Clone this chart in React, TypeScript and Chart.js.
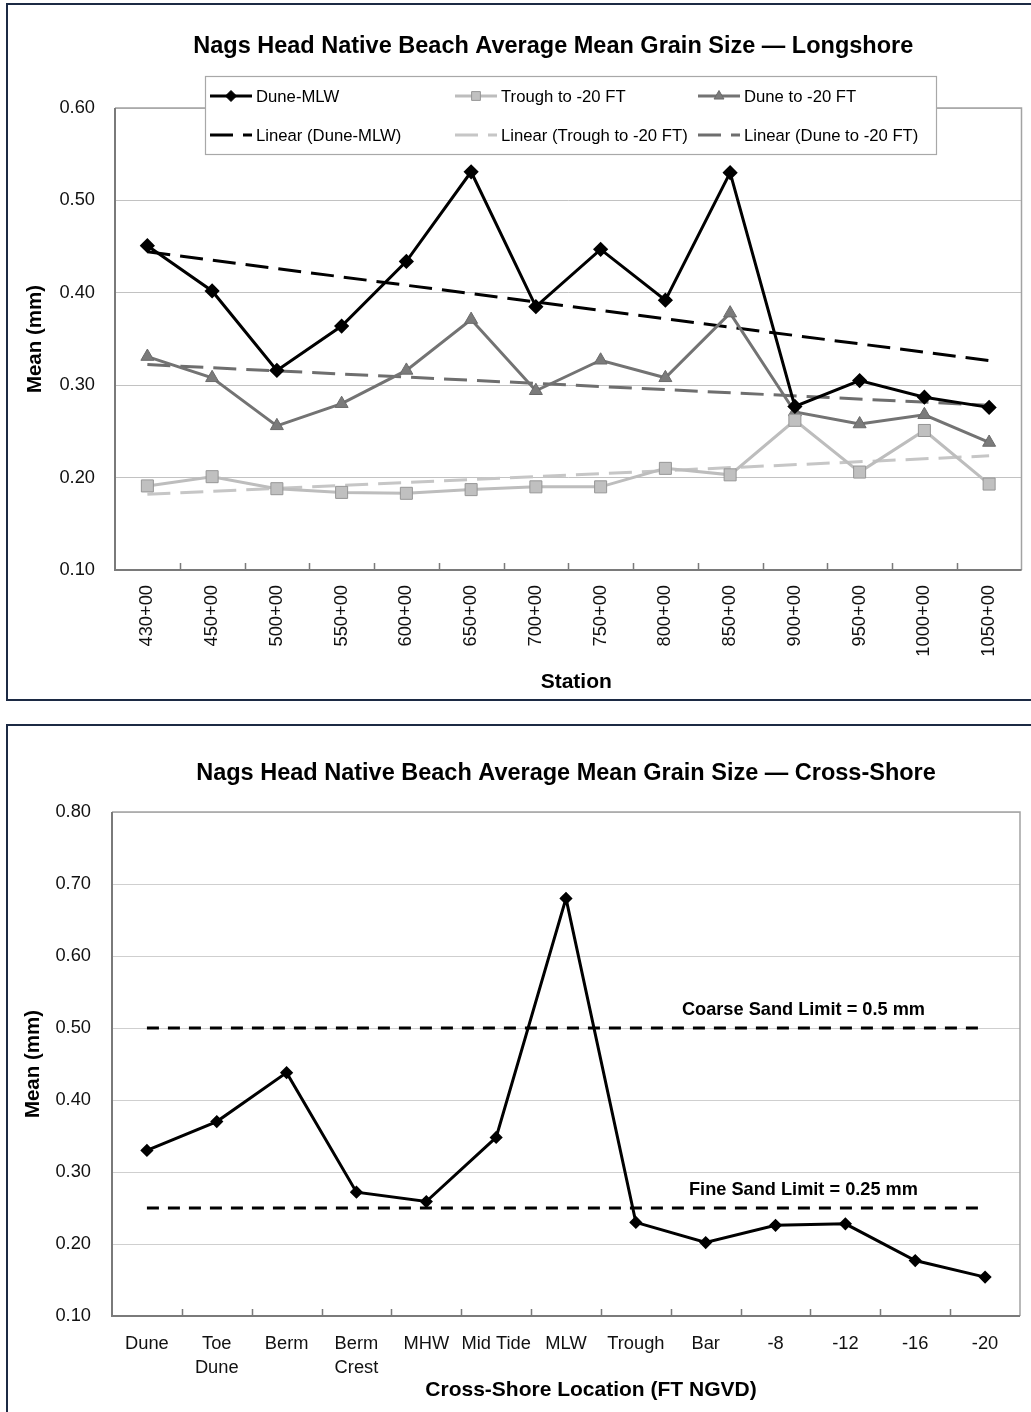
import React, { useEffect, useRef } from "react";
import { Chart, registerables } from "chart.js";

Chart.register(...registerables);

const FONT = "'Liberation Sans', Arial, Helvetica, sans-serif";

// ---- Longshore data (mean grain size, mm) ----
const STATIONS = [
  "430+00", "450+00", "500+00", "550+00", "600+00", "650+00", "700+00",
  "750+00", "800+00", "850+00", "900+00", "950+00", "1000+00", "1050+00",
];
const DUNE_MLW = [0.451, 0.402, 0.316, 0.364, 0.434, 0.531, 0.385, 0.447, 0.392, 0.53, 0.277, 0.305, 0.287, 0.276];
const TROUGH_TO_20 = [0.191, 0.201, 0.188, 0.184, 0.183, 0.187, 0.19, 0.19, 0.21, 0.203, 0.262, 0.206, 0.251, 0.193];
const DUNE_TO_20 = [0.331, 0.308, 0.256, 0.28, 0.316, 0.371, 0.294, 0.327, 0.308, 0.378, 0.271, 0.258, 0.268, 0.238];
const LONGSHORE_Y = { min: 0.1, max: 0.6, step: 0.1 };

// ---- Cross-shore data ----
const LOCATIONS: (string | string[])[] = [
  "Dune", ["Toe", "Dune"], "Berm", ["Berm", "Crest"], "MHW", "Mid Tide", "MLW",
  "Trough", "Bar", "-8", "-12", "-16", "-20",
];
const CROSS_SHORE_MEAN = [0.33, 0.37, 0.438, 0.272, 0.259, 0.348, 0.68, 0.23, 0.202, 0.226, 0.228, 0.177, 0.154];
const CROSS_SHORE_Y = { min: 0.1, max: 0.8, step: 0.1 };
const COARSE_SAND_LIMIT = 0.5;
const FINE_SAND_LIMIT = 0.25;

// Least-squares trend, returned only at the first and last category
function linearTrendEnds(values: number[]): (number | null)[] {
  const n = values.length;
  const mx = (n - 1) / 2;
  const my = values.reduce((s, v) => s + v, 0) / n;
  let sxy = 0;
  let sxx = 0;
  values.forEach((v, i) => {
    sxy += (i - mx) * (v - my);
    sxx += (i - mx) * (i - mx);
  });
  const slope = sxy / sxx;
  return values.map((_, i) => (i === 0 || i === n - 1 ? my + slope * (i - mx) : null));
}

function constantEnds(count: number, value: number): (number | null)[] {
  return Array.from({ length: count }, (_, i) => (i === 0 || i === count - 1 ? value : null));
}

function drawMarker(ctx: CanvasRenderingContext2D, style: string, x: number, y: number, r: number, fill: string, stroke: string) {
  ctx.beginPath();
  if (style === "rectRot") {
    ctx.moveTo(x, y - r);
    ctx.lineTo(x + r, y);
    ctx.lineTo(x, y + r);
    ctx.lineTo(x - r, y);
  } else if (style === "rect") {
    const s = r * 0.8;
    ctx.rect(x - s, y - s, 2 * s, 2 * s);
  } else {
    ctx.moveTo(x, y - r);
    ctx.lineTo(x + r * 0.9, y + r * 0.55);
    ctx.lineTo(x - r * 0.9, y + r * 0.55);
  }
  ctx.closePath();
  ctx.fillStyle = fill;
  ctx.fill();
  ctx.strokeStyle = stroke;
  ctx.lineWidth = 1;
  ctx.stroke();
}

// Plot frame: light top/right edges, darker axes, short inward ticks between categories
const plotFrame = {
  id: "plotFrame",
  beforeDatasetsDraw(chart: any) {
    const { ctx, chartArea: a, scales } = chart;
    ctx.save();
    ctx.strokeStyle = "#a3a3a3";
    ctx.lineWidth = 1.5;
    ctx.beginPath();
    ctx.moveTo(a.left, a.top);
    ctx.lineTo(a.right, a.top);
    ctx.lineTo(a.right, a.bottom);
    ctx.stroke();
    ctx.strokeStyle = "#7a7a7a";
    ctx.lineWidth = 2;
    ctx.beginPath();
    ctx.moveTo(a.left, a.top);
    ctx.lineTo(a.left, a.bottom);
    ctx.lineTo(a.right, a.bottom);
    ctx.stroke();
    const xs = scales.x;
    const n = chart.data.labels.length;
    ctx.lineWidth = 1.5;
    ctx.beginPath();
    for (let i = 0; i < n - 1; i++) {
      const px = Math.round((xs.getPixelForValue(i) + xs.getPixelForValue(i + 1)) / 2) + 0.5;
      ctx.moveTo(px, a.bottom);
      ctx.lineTo(px, a.bottom - 7);
    }
    ctx.stroke();
    ctx.restore();
  },
};

// Nudges the chart title horizontally after layout
function makeTitleShift(dx: number) {
  return {
    id: "titleShift",
    afterLayout(chart: any) {
      const t = chart.titleBlock;
      if (t) {
        t.left += dx;
        t.right += dx;
      }
    },
  };
}

// Bold caption under the category axis, centred on the plot plus an offset
function makeAxisCaption(text: string, dx: number, fromBottom: number) {
  return {
    id: "axisCaption",
    afterDraw(chart: any) {
      const { ctx, chartArea: a } = chart;
      ctx.save();
      ctx.fillStyle = "#000";
      ctx.font = `bold 21px ${FONT}`;
      ctx.textAlign = "center";
      ctx.textBaseline = "middle";
      ctx.fillText(text, (a.left + a.right) / 2 + dx, chart.height - fromBottom);
      ctx.restore();
    },
  };
}

// Two-row legend box laid over the top of the plot
function makeGridLegend(cfg: {
  offsetX: number; offsetY: number; width: number; height: number;
  columns: number; columnX: number[]; rowY: number[]; sampleWidth: number; fontSize: number;
}) {
  return {
    id: "gridLegend",
    afterDatasetsDraw(chart: any) {
      const { ctx, chartArea } = chart;
      const x0 = chartArea.left + cfg.offsetX;
      const y0 = chartArea.top + cfg.offsetY;
      ctx.save();
      ctx.fillStyle = "#ffffff";
      ctx.fillRect(x0, y0, cfg.width, cfg.height);
      ctx.strokeStyle = "#a8a8a8";
      ctx.lineWidth = 1.2;
      ctx.strokeRect(x0 + 0.5, y0 + 0.5, cfg.width, cfg.height);
      chart.data.datasets.forEach((ds: any, i: number) => {
        const col = i % cfg.columns;
        const row = Math.floor(i / cfg.columns);
        const sx = x0 + cfg.columnX[col];
        const sy = y0 + cfg.rowY[row];
        ctx.beginPath();
        ctx.setLineDash(ds.borderDash || []);
        ctx.strokeStyle = ds.borderColor;
        ctx.lineWidth = ds.borderWidth;
        ctx.moveTo(sx, sy);
        ctx.lineTo(sx + cfg.sampleWidth, sy);
        ctx.stroke();
        ctx.setLineDash([]);
        if (ds.pointRadius > 0) {
          drawMarker(ctx, ds.pointStyle, sx + cfg.sampleWidth / 2, sy, 5.5, ds.pointBackgroundColor, ds.pointBorderColor);
        }
        ctx.fillStyle = "#000";
        ctx.font = `${cfg.fontSize}px ${FONT}`;
        ctx.textAlign = "left";
        ctx.textBaseline = "middle";
        ctx.fillText(ds.label, sx + cfg.sampleWidth + 4, sy + 1);
      });
      ctx.restore();
    },
  };
}

// Text labels above the sand-limit reference lines
function makeLimitLabels(items: { value: number; text: string; at: number }[]) {
  return {
    id: "limitLabels",
    afterDatasetsDraw(chart: any) {
      const { ctx, scales } = chart;
      ctx.save();
      ctx.fillStyle = "#000";
      ctx.font = `bold 18.2px ${FONT}`;
      ctx.textAlign = "center";
      ctx.textBaseline = "alphabetic";
      items.forEach((it) => {
        ctx.fillText(it.text, scales.x.getPixelForValue(it.at), scales.y.getPixelForValue(it.value) - 13);
      });
      ctx.restore();
    },
  };
}

const tickFont = { family: FONT, size: 18.3 };
const yTitleFont = { family: FONT, size: 20.5, weight: "bold" as const };
const titleFont = { family: FONT, size: 23.5, weight: "bold" as const };

function longshoreConfig(): any {
  return {
    type: "line",
    data: {
      labels: STATIONS,
      datasets: [
        {
          label: "Dune-MLW", data: DUNE_MLW, borderColor: "#000000", borderWidth: 3,
          pointStyle: "rectRot", pointRadius: 5.5, pointBackgroundColor: "#000000", pointBorderColor: "#000000",
        },
        {
          label: "Trough to -20 FT", data: TROUGH_TO_20, borderColor: "#bdbdbd", borderWidth: 3,
          pointStyle: "rect", pointRadius: 8.5, pointBackgroundColor: "#c0c0c0", pointBorderColor: "#969696", pointBorderWidth: 1,
        },
        {
          label: "Dune to -20 FT", data: DUNE_TO_20, borderColor: "#737373", borderWidth: 3,
          pointStyle: "triangle", pointRadius: 7.5, pointBackgroundColor: "#7b7b7b", pointBorderColor: "#6a6a6a", pointBorderWidth: 1,
        },
        {
          label: "Linear (Dune-MLW)", data: linearTrendEnds(DUNE_MLW), borderColor: "#000000", borderWidth: 3,
          borderDash: [23, 10], pointRadius: 0, spanGaps: true,
        },
        {
          label: "Linear (Trough to -20 FT)", data: linearTrendEnds(TROUGH_TO_20), borderColor: "#c6c6c6", borderWidth: 3,
          borderDash: [23, 10], pointRadius: 0, spanGaps: true,
        },
        {
          label: "Linear (Dune to -20 FT)", data: linearTrendEnds(DUNE_TO_20), borderColor: "#6e6e6e", borderWidth: 3,
          borderDash: [23, 10], pointRadius: 0, spanGaps: true,
        },
      ],
    },
    options: {
      responsive: false,
      animation: false,
      devicePixelRatio: 1,
      layout: { padding: { left: 0, right: 8, top: 0, bottom: 0 } },
      elements: { line: { tension: 0 } },
      plugins: {
        legend: { display: false },
        tooltip: { enabled: false },
        title: {
          display: true,
          fullSize: false,
          text: "Nags Head Native Beach Average Mean Grain Size \u2014 Longshore",
          font: titleFont, color: "#000",
          padding: { top: 32.9, bottom: 46.9 },
        },
      },
      scales: {
        x: {
          type: "category", offset: true,
          grid: { display: false, drawTicks: false },
          border: { display: false },
          ticks: { minRotation: 90, maxRotation: 90, autoSkip: false, padding: 15, font: tickFont, color: "#111" },
          title: { display: false },
          afterFit: (s: any) => { s.height = 130; },
        },
        y: {
          min: LONGSHORE_Y.min, max: LONGSHORE_Y.max,
          grid: { color: "#c2c2c2", lineWidth: 1, drawTicks: false },
          border: { display: false },
          ticks: { stepSize: LONGSHORE_Y.step, padding: 20, font: tickFont, color: "#111", callback: (v: any) => Number(v).toFixed(2) },
          title: { display: true, text: "Mean (mm)", font: yTitleFont, color: "#000", padding: { top: 22.7, bottom: 0 } },
          afterFit: (s: any) => { s.width = 115; },
        },
      },
    },
    plugins: [
      plotFrame,
      makeTitleShift(-15),
      makeAxisCaption("Station", 8, 18),
      makeGridLegend({
        offsetX: 90, offsetY: -32, width: 731, height: 78, columns: 3,
        columnX: [5, 250, 493], rowY: [20, 59], sampleWidth: 42, fontSize: 16.7,
      }),
    ],
  };
}

function crossShoreConfig(): any {
  const n = LOCATIONS.length;
  return {
    type: "line",
    data: {
      labels: LOCATIONS,
      datasets: [
        {
          label: "Mean", data: CROSS_SHORE_MEAN, borderColor: "#000000", borderWidth: 3,
          pointStyle: "rectRot", pointRadius: 4.5, pointBackgroundColor: "#000000", pointBorderColor: "#000000",
        },
        {
          label: "Coarse Sand Limit", data: constantEnds(n, COARSE_SAND_LIMIT), borderColor: "#000000", borderWidth: 3,
          borderDash: [12, 9], pointRadius: 0, spanGaps: true,
        },
        {
          label: "Fine Sand Limit", data: constantEnds(n, FINE_SAND_LIMIT), borderColor: "#000000", borderWidth: 3,
          borderDash: [12, 9], pointRadius: 0, spanGaps: true,
        },
      ],
    },
    options: {
      responsive: false,
      animation: false,
      devicePixelRatio: 1,
      layout: { padding: { left: 0, right: 11, top: 0, bottom: 0 } },
      elements: { line: { tension: 0 } },
      plugins: {
        legend: { display: false },
        tooltip: { enabled: false },
        title: {
          display: true,
          fullSize: false,
          text: "Nags Head Native Beach Average Mean Grain Size \u2014 Cross-Shore",
          font: titleFont, color: "#000",
          padding: { top: 59.9, bottom: 23.9 },
        },
      },
      scales: {
        x: {
          type: "category", offset: true,
          grid: { display: false, drawTicks: false },
          border: { display: false },
          ticks: { minRotation: 0, maxRotation: 0, autoSkip: false, padding: 16, font: { ...tickFont, lineHeight: 1.32 }, color: "#111" },
          title: { display: false },
          afterFit: (s: any) => { s.height = 96; },
        },
        y: {
          min: CROSS_SHORE_Y.min, max: CROSS_SHORE_Y.max,
          grid: { color: "#cfcfcf", lineWidth: 1, drawTicks: false },
          border: { display: false },
          ticks: { stepSize: CROSS_SHORE_Y.step, padding: 21, font: tickFont, color: "#111", callback: (v: any) => Number(v).toFixed(2) },
          title: { display: true, text: "Mean (mm)", font: yTitleFont, color: "#000", padding: { top: 20.7, bottom: 0 } },
          afterFit: (s: any) => { s.width = 112; },
        },
      },
    },
    plugins: [
      plotFrame,
      makeAxisCaption("Cross-Shore Location (FT NGVD)", 25, 22),
      makeLimitLabels([
        { value: COARSE_SAND_LIMIT, text: `Coarse Sand Limit = ${COARSE_SAND_LIMIT} mm`, at: 9.4 },
        { value: FINE_SAND_LIMIT, text: `Fine Sand Limit = ${FINE_SAND_LIMIT} mm`, at: 9.4 },
      ]),
    ],
  };
}

export default function App() {
  const topRef = useRef<HTMLCanvasElement>(null);
  const bottomRef = useRef<HTMLCanvasElement>(null);

  useEffect(() => {
    const charts: Chart[] = [];
    if (topRef.current) charts.push(new Chart(topRef.current, longshoreConfig()));
    if (bottomRef.current) charts.push(new Chart(bottomRef.current, crossShoreConfig()));
    return () => charts.forEach((c) => c.destroy());
  }, []);

  const frameStyle: React.CSSProperties = {
    position: "absolute",
    boxSizing: "border-box",
    border: "2.5px solid #1c2a44",
    background: "#ffffff",
  };

  return (
    <div style={{ position: "absolute", left: 0, top: 0, width: 1031, height: 1412, overflow: "hidden", background: "#ffffff" }}>
      <div style={{ ...frameStyle, left: 6, top: 3, width: 1045, height: 698 }} />
      <div style={{ ...frameStyle, left: 6, top: 724, width: 1045, height: 720 }} />
      <canvas ref={topRef} width={1031} height={700} style={{ position: "absolute", left: 0, top: 0 }} />
      <canvas ref={bottomRef} width={1031} height={712} style={{ position: "absolute", left: 0, top: 700 }} />
    </div>
  );
}
